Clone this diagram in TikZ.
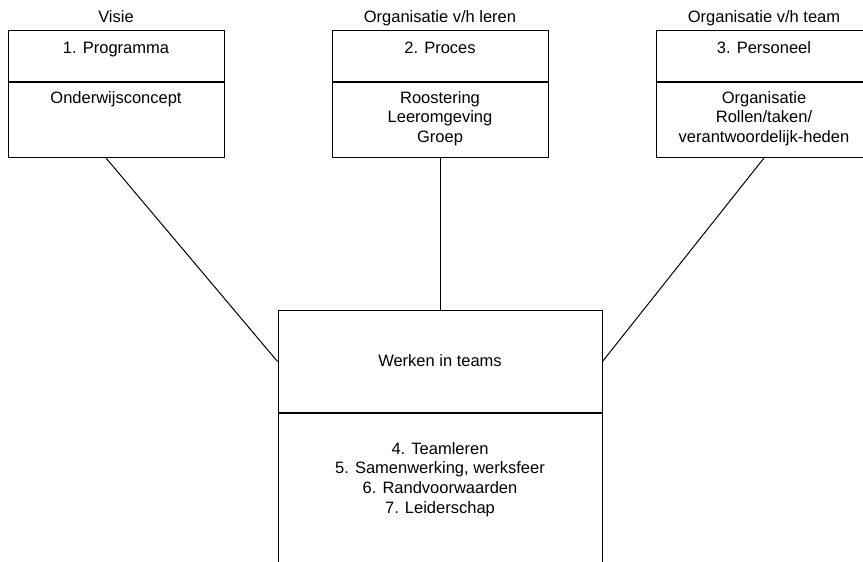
\documentclass[tikz,border=0pt]{standalone}
\usepackage{fontspec}
\setmainfont{Liberation Sans}
\usetikzlibrary{positioning}
\newcommand{\boxfont}{\fontsize{16.5}{19.7}\selectfont}
\tikzset{
  cell/.style={draw, line width=1pt, minimum width=216pt, minimum height=#1, inner sep=0pt, anchor=north},
  wide/.style={minimum width=324pt},
  txt/.style={inner sep=0pt, align=center, font=\boxfont},
  link/.style={line width=1pt},
}

\begin{document}
\begin{tikzpicture}[x=1pt,y=-1pt]
\useasboundingbox (0,0) rectangle (863,562);
\clip (0,0) rectangle (863,562);
% upper boxes
\node[cell=51pt] (progtop) at (116,30) {};
\node[cell=75pt] (progbot) at (progtop.south) {};
\node[cell=51pt] (proctop) at (440,30) {};
\node[cell=75pt] (procbot) at (proctop.south) {};
\node[cell=51pt] (perstop) at (764,30) {};
\node[cell=75pt] (persbot) at (perstop.south) {};
% titles and contents
\node[txt, anchor=base] (visie) at (116,22) {Visie};
\node[txt, anchor=base] (leren) at (440,22) {Organisatie v/h leren};
\node[txt, anchor=base] (team) at (764,22) {Organisatie v/h team};
\node[txt, anchor=base] (programma) at (116,53) {1. Programma};
\node[txt, anchor=base] (proces) at (440,53) {2. Proces};
\node[txt, anchor=base] (personeel) at (764,53) {3. Personeel};
\node[txt, anchor=north] (concept) at (116,91) {Onderwijsconcept};
\node[txt, anchor=north] (rooster) at (440,91) {Roostering\\Leeromgeving\\Groep};
\node[txt, anchor=north] (rollen) at (764,91) {Organisatie\\Rollen/taken/\\verantwoordelijk-heden};
% central box
\node[cell=102pt, wide] (werktop) at (440,310) {};
\node[cell=200pt, wide] (werkbot) at (werktop.south) {};
\node[txt, anchor=base] (werken) at (440,366) {Werken in teams};
\node[txt, anchor=north] (punten) at (440,442) {4. Teamleren\\5. Samenwerking, werksfeer\\6. Randvoorwaarden\\7. Leiderschap};
% connectors
\draw[link] ([xshift=-10pt]progbot.south) -- (werktop.west);
\draw[link] (procbot.south) -- (werktop.north);
\draw[link] (persbot.south) -- (werktop.east);
\end{tikzpicture}
\end{document}
